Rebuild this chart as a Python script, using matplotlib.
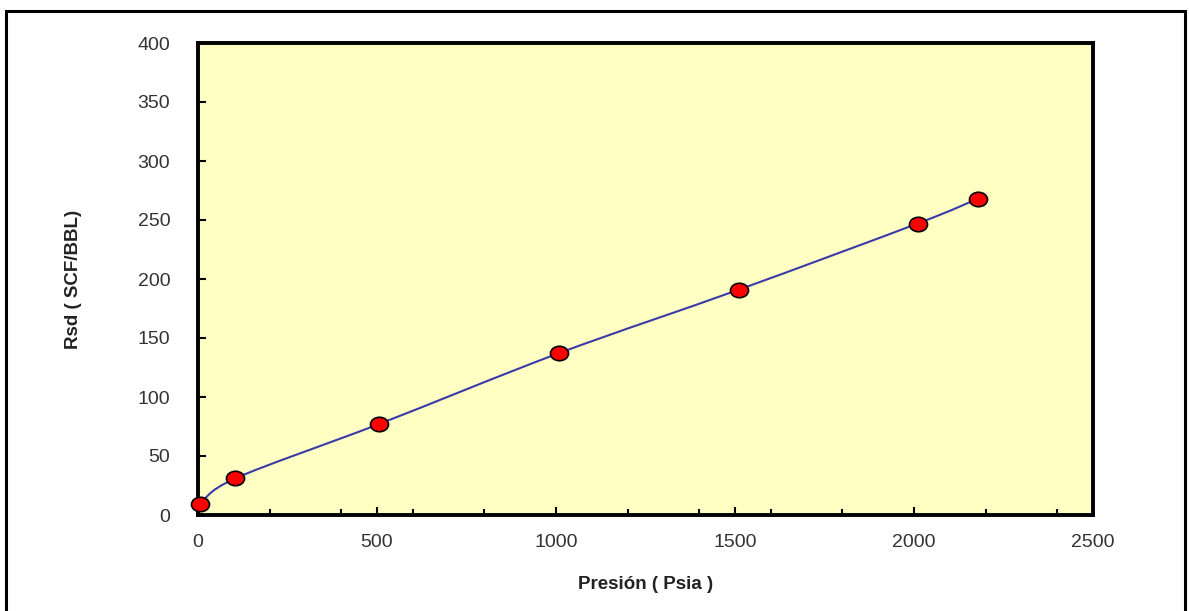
import matplotlib
matplotlib.use("Agg")
import matplotlib.pyplot as plt
from matplotlib.path import Path
from matplotlib.patches import PathPatch, Rectangle
from matplotlib.transforms import Affine2D
from matplotlib.ticker import MultipleLocator

# --- datos ---
presion = [5, 104, 505, 1007, 1511, 2010, 2178]
rsd = [9, 31, 77, 137, 191, 247, 268]

plt.rcParams["font.family"] = ["Liberation Sans", "DejaVu Sans"]

W, H = 1189, 611
fig = plt.figure(figsize=(W / 100, H / 100), dpi=100)

# marco exterior
fig.patches.append(Rectangle((6 / W, -0.05), (1185 - 6) / W, 1.05 - 11 / H,
                             transform=fig.transFigure, fill=False,
                             edgecolor="black", linewidth=2.2))

ax = fig.add_axes([198 / W, (H - 515) / H, (1093 - 198) / W, (515 - 43) / H])
ax.set_facecolor("#FFFFC4")
for s in ax.spines.values():
    s.set_linewidth(2.8)
    s.set_color("black")

# curva suavizada (bezier tipo Excel)
pts = list(zip(presion, rsd))
verts = [pts[0]]
codes = [Path.MOVETO]
n = len(pts)
for i in range(n - 1):
    p0 = pts[i - 1] if i > 0 else pts[i]
    p1 = pts[i]
    p2 = pts[i + 1]
    p3 = pts[i + 2] if i + 2 < n else pts[i + 1]
    c1 = (p1[0] + (p2[0] - p0[0]) / 6, p1[1] + (p2[1] - p0[1]) / 6)
    c2 = (p2[0] - (p3[0] - p1[0]) / 6, p2[1] - (p3[1] - p1[1]) / 6)
    verts += [c1, c2, p2]
    codes += [Path.CURVE4] * 3
ax.add_patch(PathPatch(Path(verts, codes), fill=False, edgecolor="#3A3AA8",
                       linewidth=1.5, zorder=2))

ellipse = Path.unit_circle().transformed(Affine2D().scale(1, 0.8))
ax.plot(presion, rsd, linestyle="none", marker=ellipse, markersize=13,
        markerfacecolor="#FF0000", markeredgecolor="black", markeredgewidth=1.2,
        zorder=3, clip_on=False)

ax.set_xlim(0, 2500)
ax.set_ylim(0, 400)
ax.xaxis.set_major_locator(MultipleLocator(500))
ax.xaxis.set_minor_locator(MultipleLocator(200))
ax.yaxis.set_major_locator(MultipleLocator(50))
ax.tick_params(axis="both", which="major", direction="in", length=6, width=1.5,
               labelsize=14, labelcolor="#333333", color="black")
ax.tick_params(axis="x", which="minor", direction="in", length=4, width=1.5)
ax.tick_params(axis="x", which="major", pad=14)
ax.tick_params(axis="y", which="major", pad=20)

ax.set_xlabel("Presión ( Psia )", fontsize=13.5, fontweight="bold", color="#222222",
              labelpad=18)
ax.set_ylabel("Rsd ( SCF/BBL)", fontsize=13.5, fontweight="bold", color="#222222",
              labelpad=40)

fig.savefig("out.png", dpi=100)
